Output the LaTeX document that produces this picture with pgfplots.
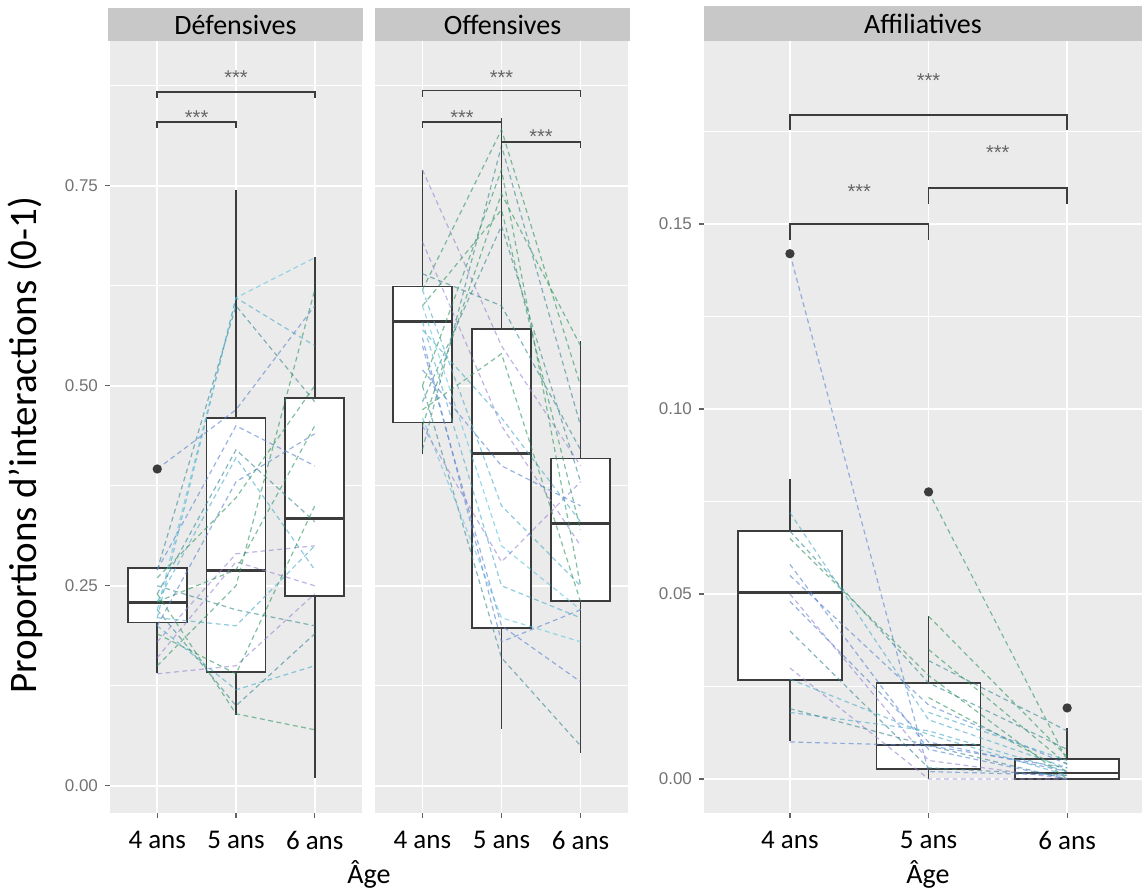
\documentclass[border=0pt]{standalone}
\usepackage{fontspec}
\setmainfont{Carlito}
\newfontfamily\arial{Liberation Sans}
\usepackage{pgfplots}
\pgfplotsset{compat=1.18}
\usepgfplotslibrary{statistics}

\definecolor{panelbg}{RGB}{235,235,235}
\definecolor{stripbg}{RGB}{200,200,200}
\definecolor{boxline}{RGB}{60,60,60}
\definecolor{c1}{RGB}{70,170,200}
\definecolor{c2}{RGB}{85,130,205}
\definecolor{c3}{RGB}{45,150,95}
\definecolor{c4}{RGB}{150,130,210}
\definecolor{c5}{RGB}{55,135,145}
\definecolor{c6}{RGB}{90,195,225}

\newcommand\stars{{\arial\fontsize{10}{11}\selectfont\color{black!60}***}}

\pgfplotsset{
  facet/.style={
    scale only axis, anchor=south west, height=386pt,
    xmin=0.4, xmax=3.6,
    axis background/.style={fill=panelbg},
    axis line style={draw=none},
    xtick={1,2,3}, xticklabels={4 ans,5 ans,6 ans},
    xmajorgrids, ymajorgrids, yminorgrids,
    major grid style={white, line width=0.9pt},
    minor grid style={white, line width=0.45pt},
    tick align=outside, xtick pos=bottom, ytick pos=left,
    major tick length=2.5pt, minor tick length=0pt,
    tick style={boxline!80, line width=0.6pt},
    xticklabel style={font=\fontsize{13.5}{15}\selectfont, text=black, yshift=-3pt},
    yticklabel style={font=\arial\fontsize{8.5}{10}\selectfont, text=black!55},
    boxplot/draw direction=y,
    boxplot/every median/.style={line width=1.4pt},
  },
  bx/.style={boxline, line width=0.8pt, fill=white, solid, mark=*, mark size=1.9pt,
    mark options={fill=boxline, draw=boxline}},
  sp/.style={#1, dash pattern=on 2.4pt off 1.8pt, line width=0.6pt, opacity=0.6,
    forget plot, mark=none},
  br/.style={boxline, line width=0.9pt, mark=none, solid, forget plot},
}

\begin{document}
\begin{tikzpicture}
% ---------------- Defensives
\begin{axis}[facet, at={(55pt,40pt)}, width=126pt,
  ymin=-0.034, ymax=0.931,
  ytick={0,0.25,0.5,0.75}, yticklabels={0.00,0.25,0.50,0.75},
  minor ytick={0.125,0.375,0.625,0.875}]
\addplot[bx, boxplot prepared={draw position=1, lower whisker=0.141, lower quartile=0.204,
  median=0.229, upper quartile=0.2725, upper whisker=0.2725, box extend=0.75, whisker extend=0}]
  table[row sep=\\, y index=0]{y\\0.396\\};
\addplot[bx, boxplot prepared={draw position=2, lower whisker=0.089, lower quartile=0.1425,
  median=0.269, upper quartile=0.46, upper whisker=0.745, box extend=0.75, whisker extend=0}]
  coordinates {};
\addplot[bx, boxplot prepared={draw position=3, lower whisker=0.01, lower quartile=0.2375,
  median=0.334, upper quartile=0.485, upper whisker=0.661, box extend=0.75, whisker extend=0}]
  coordinates {};
\addplot[sp=c6] coordinates {(1,0.22)(2,0.61)(3,0.66)};
\addplot[sp=c1] coordinates {(1,0.21)(2,0.61)(3,0.55)};
\addplot[sp=c5] coordinates {(1,0.27)(2,0.60)(3,0.48)};
\addplot[sp=c2] coordinates {(1,0.396)(2,0.47)(3,0.60)};
\addplot[sp=c5] coordinates {(1,0.24)(2,0.42)(3,0.33)};
\addplot[sp=c1] coordinates {(1,0.23)(2,0.41)(3,0.27)};
\addplot[sp=c2] coordinates {(1,0.20)(2,0.38)(3,0.44)};
\addplot[sp=c3] coordinates {(1,0.26)(2,0.36)(3,0.50)};
\addplot[sp=c4] coordinates {(1,0.18)(2,0.29)(3,0.30)};
\addplot[sp=c4] coordinates {(1,0.16)(2,0.28)(3,0.25)};
\addplot[sp=c3] coordinates {(1,0.15)(2,0.25)(3,0.62)};
\addplot[sp=c3] coordinates {(1,0.23)(2,0.27)(3,0.45)};
\addplot[sp=c5] coordinates {(1,0.25)(2,0.22)(3,0.20)};
\addplot[sp=c4] coordinates {(1,0.14)(2,0.15)(3,0.24)};
\addplot[sp=c1] coordinates {(1,0.20)(2,0.12)(3,0.15)};
\addplot[sp=c3] coordinates {(1,0.24)(2,0.09)(3,0.07)};
\addplot[sp=c5] coordinates {(1,0.22)(2,0.10)(3,0.19)};
\addplot[sp=c3] coordinates {(1,0.19)(2,0.14)(3,0.35)};
\addplot[sp=c2] coordinates {(1,0.27)(2,0.45)(3,0.40)};
\addplot[sp=c1] coordinates {(1,0.21)(2,0.20)(3,0.30)};
\addplot[br] coordinates {(1,0.86)(1,0.8675)(3,0.8675)(3,0.86)};
\addplot[br] coordinates {(1,0.8225)(1,0.83)(2,0.83)(2,0.8225)};
\node[yshift=-2.2pt] at (axis cs:2,0.891) {\stars};
\node[yshift=-2.2pt] at (axis cs:1.5,0.841) {\stars};
\end{axis}
% ---------------- Offensives
\begin{axis}[facet, at={(187.5pt,40pt)}, width=126.5pt,
  ymin=-0.034, ymax=0.931,
  ytick={0,0.25,0.5,0.75}, yticklabels={},
  minor ytick={0.125,0.375,0.625,0.875}, ymajorticks=false, yminorticks=false]
\addplot[bx, boxplot prepared={draw position=1, lower whisker=0.415, lower quartile=0.454,
  median=0.58, upper quartile=0.624, upper whisker=0.77, box extend=0.75, whisker extend=0}]
  coordinates {};
\addplot[bx, boxplot prepared={draw position=2, lower whisker=0.071, lower quartile=0.1975,
  median=0.415, upper quartile=0.571, upper whisker=0.835, box extend=0.75, whisker extend=0}]
  coordinates {};
\addplot[bx, boxplot prepared={draw position=3, lower whisker=0.041, lower quartile=0.231,
  median=0.3275, upper quartile=0.409, upper whisker=0.556, box extend=0.75, whisker extend=0}]
  coordinates {};
\addplot[sp=c4] coordinates {(1,0.77)(2,0.55)(3,0.40)};
\addplot[sp=c4] coordinates {(1,0.68)(2,0.45)(3,0.30)};
\addplot[sp=c1] coordinates {(1,0.62)(2,0.35)(3,0.25)};
\addplot[sp=c6] coordinates {(1,0.60)(2,0.30)(3,0.22)};
\addplot[sp=c1] coordinates {(1,0.58)(2,0.25)(3,0.21)};
\addplot[sp=c2] coordinates {(1,0.55)(2,0.20)(3,0.13)};
\addplot[sp=c5] coordinates {(1,0.50)(2,0.16)(3,0.05)};
\addplot[sp=c6] coordinates {(1,0.46)(2,0.21)(3,0.18)};
\addplot[sp=c3] coordinates {(1,0.45)(2,0.74)(3,0.55)};
\addplot[sp=c5] coordinates {(1,0.42)(2,0.80)(3,0.45)};
\addplot[sp=c3] coordinates {(1,0.50)(2,0.77)(3,0.25)};
\addplot[sp=c3] coordinates {(1,0.60)(2,0.72)(3,0.32)};
\addplot[sp=c5] coordinates {(1,0.48)(2,0.70)(3,0.38)};
\addplot[sp=c3] coordinates {(1,0.62)(2,0.82)(3,0.50)};
\addplot[sp=c1] coordinates {(1,0.57)(2,0.46)(3,0.33)};
\addplot[sp=c2] coordinates {(1,0.52)(2,0.40)(3,0.35)};
\addplot[sp=c4] coordinates {(1,0.45)(2,0.28)(3,0.38)};
\addplot[sp=c5] coordinates {(1,0.64)(2,0.60)(3,0.42)};
\addplot[sp=c3] coordinates {(1,0.47)(2,0.54)(3,0.23)};
\addplot[sp=c2] coordinates {(1,0.56)(2,0.18)(3,0.22)};
\addplot[br] coordinates {(1,0.861)(1,0.869)(3,0.869)(3,0.861)};
\addplot[br] coordinates {(1,0.8225)(1,0.83)(2,0.83)(2,0.8225)};
\addplot[br] coordinates {(2,0.7975)(2,0.805)(3,0.805)(3,0.7975)};
\node[yshift=-2.2pt] at (axis cs:2,0.891) {\stars};
\node[yshift=-2.2pt] at (axis cs:1.5,0.841) {\stars};
\node[yshift=-2.2pt] at (axis cs:2.5,0.8175) {\stars};
\end{axis}
% ---------------- Affiliatives
\begin{axis}[facet, at={(352pt,40pt)}, width=219pt,
  xmin=0.38, xmax=3.54,
  ymin=-0.0092, ymax=0.1995,
  ytick={0,0.05,0.1,0.15}, yticklabels={0.00,0.05,0.10,0.15},
  minor ytick={0.025,0.075,0.125,0.175}]
\addplot[bx, boxplot prepared={draw position=1, lower whisker=0.0103, lower quartile=0.0268,
  median=0.0503, upper quartile=0.067, upper whisker=0.081, box extend=0.75, whisker extend=0}]
  table[row sep=\\, y index=0]{y\\0.142\\};
\addplot[bx, boxplot prepared={draw position=2, lower whisker=0, lower quartile=0.0027,
  median=0.0092, upper quartile=0.026, upper whisker=0.044, box extend=0.75, whisker extend=0}]
  table[row sep=\\, y index=0]{y\\0.0776\\};
\addplot[bx, boxplot prepared={draw position=3, lower whisker=0, lower quartile=0,
  median=0.0016, upper quartile=0.0054, upper whisker=0.0138, box extend=0.75, whisker extend=0}]
  table[row sep=\\, y index=0]{y\\0.0192\\};
\addplot[sp=c2] coordinates {(1,0.142)(2,0.002)(3,0.001)};
\addplot[sp=c1] coordinates {(1,0.072)(2,0.016)(3,0.003)};
\addplot[sp=c5] coordinates {(1,0.067)(2,0.026)(3,0.008)};
\addplot[sp=c2] coordinates {(1,0.055)(2,0.020)(3,0.004)};
\addplot[sp=c4] coordinates {(1,0.050)(2,0.005)(3,0.000)};
\addplot[sp=c2] coordinates {(1,0.048)(2,0.010)(3,0.002)};
\addplot[sp=c5] coordinates {(1,0.040)(2,0.003)(3,0.001)};
\addplot[sp=c4] coordinates {(1,0.030)(2,0.000)(3,0.000)};
\addplot[sp=c1] coordinates {(1,0.027)(2,0.012)(3,0.001)};
\addplot[sp=c1] coordinates {(1,0.018)(2,0.013)(3,0.002)};
\addplot[sp=c5] coordinates {(1,0.019)(2,0.009)(3,0.000)};
\addplot[sp=c2] coordinates {(1,0.010)(2,0.009)(3,0.003)};
\addplot[sp=c3] coordinates {(2,0.0776)(3,0.005)};
\addplot[sp=c3] coordinates {(2,0.044)(3,0.006)};
\addplot[sp=c3] coordinates {(2,0.035)(3,0.004)};
\addplot[sp=c5] coordinates {(2,0.032)(3,0.013)};
\addplot[sp=c3] coordinates {(1,0.065)(2,0.028)(3,0.000)};
\addplot[sp=c3] coordinates {(2,0.022)(3,0.002)};
\addplot[sp=c1] coordinates {(2,0.018)(3,0.005)};
\addplot[sp=c2] coordinates {(1,0.058)(2,0.008)(3,0.000)};
\addplot[br] coordinates {(1,0.1754)(1,0.1795)(3,0.1795)(3,0.1754)};
\addplot[br] coordinates {(2,0.1554)(2,0.1597)(3,0.1597)(3,0.1554)};
\addplot[br] coordinates {(1,0.1457)(1,0.15)(2,0.15)(2,0.1457)};
\node[yshift=-2.2pt] at (axis cs:2,0.19) {\stars};
\node[yshift=-2.2pt] at (axis cs:2.5,0.1705) {\stars};
\node[yshift=-2.2pt] at (axis cs:1.5,0.16) {\stars};
\end{axis}
% strips
\fill[stripbg] (54pt,426pt) rectangle (181.5pt,442.5pt);
\fill[stripbg] (187.5pt,426pt) rectangle (315pt,442.5pt);
\fill[stripbg] (352pt,426pt) rectangle (571pt,443.5pt);
\node[font=\fontsize{14}{16}\selectfont] at (117.75pt,434.25pt) {Défensives};
\node[font=\fontsize{14}{16}\selectfont] at (251.25pt,434.25pt) {Offensives};
\node[font=\fontsize{14}{16}\selectfont] at (461.5pt,434.75pt) {Affiliatives};
% axis titles
\node[font=\fontsize{14}{16}\selectfont, anchor=base] at (184.5pt,4.5pt) {Âge};
\node[font=\fontsize{14}{16}\selectfont, anchor=base] at (464pt,4.5pt) {Âge};
\node[font=\fontsize{19.5}{21}\selectfont, rotate=90] at (12.5pt,224pt) {Proportions d’interactions (0-1)};
\pgfresetboundingbox
\useasboundingbox (0,0) rectangle (571pt,446.5pt);
\end{tikzpicture}
\end{document}
